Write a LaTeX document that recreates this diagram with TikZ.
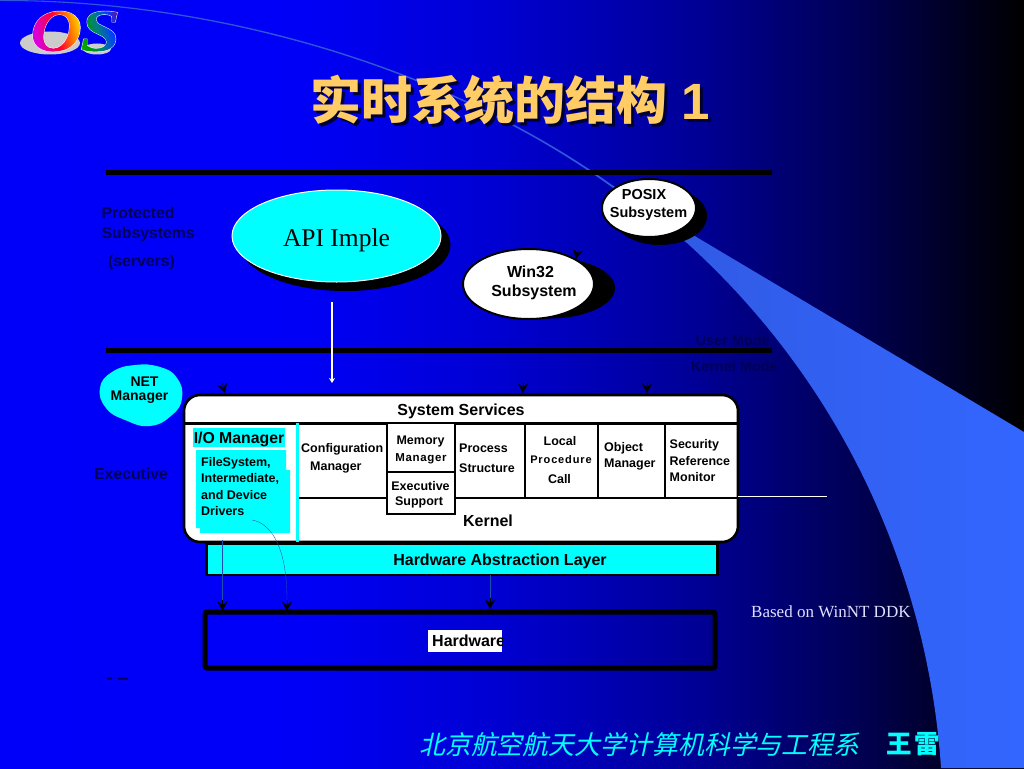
\documentclass[tikz,border=0pt]{standalone}
\usepackage{fontspec}
\usetikzlibrary{arrows.meta,shapes.geometric}
\setmainfont{Liberation Sans}
\newfontfamily\timesf{Liberation Serif}
\newfontfamily\logof[FakeStretch=1.2]{Liberation Serif}
\newfontfamily\cjkf{Noto Sans CJK SC}
\newfontfamily\cjkslant[FakeSlant=0.22]{Noto Sans CJK SC}
\newcommand\fsz[2]{\fontsize{#1}{#2}\selectfont}
\newcommand\lowered[2]{\raisebox{#1}[0pt][0pt]{#2}}
\definecolor{swoosh}{HTML}{3366FF}
\definecolor{swooshd}{HTML}{2F55D8}
\definecolor{aqua}{HTML}{00FFFF}
\definecolor{titlec}{HTML}{FFCC66}
\definecolor{darklabel}{HTML}{000058}
\definecolor{thinc}{HTML}{1C50B0}
\pgfdeclarehorizontalshading{bgshade}{100bp}{
  rgb(0bp)=(0,0,1); rgb(39.6bp)=(0,0,0.97); rgb(49.4bp)=(0,0,0.82);
  rgb(59.2bp)=(0,0,0.58); rgb(66.5bp)=(0,0,0.34); rgb(75bp)=(0,0,0); rgb(100bp)=(0,0,0)}
\pgfdeclarehorizontalshading{oshade}{100bp}{
  color(0bp)=(magenta!85!black); color(32bp)=(magenta!85!black); color(48bp)=(red!80!magenta); color(60bp)=(orange); color(70bp)=(yellow!90!orange); color(100bp)=(yellow)}
\pgfdeclarehorizontalshading{sshade}{100bp}{
  color(0bp)=(green!75!yellow); color(34bp)=(green!60!black); color(46bp)=(teal); color(58bp)=(blue!75!cyan); color(70bp)=(violet); color(100bp)=(violet)}
\newcommand\gradglyph[3]{\special{pdf:code q 5 Tr 1 1 1 RG 0.9 w}#1\special{pdf:code 0 Tr}\llap{\raisebox{-12pt}{\tikz[x=1pt,y=1pt]{\shade[shading=#2,shading angle=15] (0,0) rectangle (#3,66);}}\kern-8pt}\special{pdf:code Q}}
\tikzset{
  lbl/.style={inner sep=0pt,font=\bfseries\fsz{12.5}{16.4},align=left,text=black},
  big/.style={inner sep=0pt,font=\bfseries\fsz{16}{18},text=black},
  dark/.style={inner sep=0pt,font=\bfseries\fsz{15.8}{20},text=darklabel,align=left},
  heavy/.style={line width=4.8pt,black},
  cell/.style={line width=2.4pt,black},
  thinl/.style={line width=0.35pt,thinc},
  tip/.style={line width=0.4pt,black,-{Stealth[length=9.5pt,width=10pt,inset=3.5pt]}},
}
\begin{document}
\begin{tikzpicture}[x=1pt,y=-1pt]
\useasboundingbox (0,0) rectangle (1024,768);
\shade[shading=bgshade] (0,0) rectangle (1024,768);
% swoosh
\shade[left color=swooshd,right color=swoosh,middle color=swooshd]
  (0,0) .. controls (220,-1) and (450,69) .. (612,185) -- (693,235) -- (1024,432) -- (1024,768) -- (941,768)
  .. controls (930,600) and (860,400) .. (687,243) -- (611,186.5)
  .. controls (450,70.5) and (220,0.5) .. (0,1) -- cycle;
% logo
\fill[black!20] (50,43) ellipse (30 and 11.5);
\fill[black!20] (97,49) ellipse (14 and 5.5);
\node[inner sep=0pt,anchor=base west,font=\logof\bfseries\itshape\fsz{60}{64}] (logoo) at (30,51) {\gradglyph{O}{oshade}{64}};
\node[inner sep=0pt,anchor=base west,font=\logof\bfseries\itshape\fsz{60}{64}] (logos) at (80,51) {\gradglyph{S}{sshade}{52}};
% title
\node[inner sep=0pt,text=black!80!blue,font=\bfseries\fsz{51}{54}] (titlesh) at (513,103) {{\cjkf\bfseries 实时系统的结构} 1};
\node[inner sep=0pt,text=titlec,font=\bfseries\fsz{51}{54}] (title) at (510,100) {{\cjkf\bfseries 实时系统的结构} 1};
% rules
\coordinate (r1a) at (106,172.5); \coordinate (r1b) at (772,172.5);
\coordinate (r2a) at (106,350.5); \coordinate (r2b) at (772,350.5);
\draw[heavy] (r1a) -- (r1b);
\draw[heavy] (r2a) -- (r2b);
% left labels
\node[dark,anchor=north west] (prot) at (101.5,207) {Protected\\Subsystems};
\node[dark,anchor=west] (serv) at (108,262.5) {(servers)};
\node[dark,anchor=west] (exec) at (94,474) {Executive};
\node[dark,font=\bfseries\fsz{14.5}{18},anchor=east] (umode) at (770,340) {User Mode};
\node[dark,font=\bfseries\fsz{14.5}{18},anchor=east] (kmode) at (778,366) {Kernel Mode};
% API
\fill[black] (345.5,245) ellipse (105 and 46);
\node[ellipse,draw=white,line width=1pt,fill=aqua,minimum width=209pt,minimum height=92pt,inner sep=0pt,font=\timesf\fsz{25.5}{28}] (api) at (336.5,236) {\lowered{-10pt}{API Imple}};
% Win32
\fill[black] (549,288) ellipse (66 and 30.5);
\node[ellipse,draw=black,line width=2pt,fill=white,minimum width=131pt,minimum height=70pt,inner sep=0pt] (win) at (528.5,284) {};
\node[inner sep=0pt,font=\bfseries\fsz{16}{19},align=center] (wint) at (534,282.5) {\hspace*{-7pt}Win32\\Subsystem};
% POSIX
\fill[black] (660,216) ellipse (47 and 29);
\node[ellipse,draw=black,line width=2pt,fill=white,minimum width=94pt,minimum height=58pt,inner sep=0pt] (posix) at (649,208) {};
\node[inner sep=0pt,font=\bfseries\fsz{14.5}{18},align=center] (posixt) at (648.5,205) {POSIX\hspace{9pt}\null\\Subsystem};
% NET manager
\fill[aqua] plot[smooth cycle,tension=0.8] coordinates {(100,388) (112,372) (135,365) (160,367) (177,378) (182,398) (172,415) (150,426) (125,420) (106,408)};
\node[inner sep=0pt,font=\bfseries\fsz{14}{14},align=center] (net) at (139.5,390) {\hspace{10pt}NET\\Manager};
% API arrow
\coordinate (aps) at (332,302); \coordinate (ape) at (332,383);
\draw[white,line width=1.1pt,-{Stealth[length=5pt,width=6pt]}] (aps) -- (ape);
% HAL
\node[draw=black,line width=2.2pt,fill=aqua,minimum width=511pt,minimum height=31pt,inner sep=0pt,font=\bfseries\fsz{16}{18}] (hal) at (462,559.5) {\hspace{76pt}\lowered{-5.5pt}{Hardware Abstraction Layer}};
% main box
\node[draw=black,line width=2.6pt,fill=white,rounded corners=16pt,minimum width=554pt,minimum height=147pt,inner sep=0pt] (main) at (461,468.5) {};
\coordinate (hA) at (184,423.5); \coordinate (hB) at (738,423.5);
\draw[cell] (hA) -- (hB);
\coordinate (kA) at (299,498); \coordinate (kB) at (738,498);
\draw[cell] (kA) -- (kB);
\foreach \x in {525,598,665}{\draw[cell] (\x,423.5) -- (\x,498);}
% executive support / memory
\node[draw=black,line width=2.4pt,fill=white,minimum width=68pt,minimum height=42pt,inner sep=0pt] (esup) at (421,493) {};
\node[draw=black,line width=2.4pt,fill=white,minimum width=68pt,minimum height=49pt,inner sep=0pt] (mem) at (421,447.5) {};
% cyan divider
\coordinate (cvA) at (297.5,423); \coordinate (cvB) at (297.5,542);
\draw[aqua,line width=3pt] (cvA) -- (cvB);
% white line
\coordinate (wl) at (827,496);
\draw[white,line width=1pt] (738,496) -- (wl);
% I/O
\node[fill=aqua,minimum width=92pt,minimum height=19pt,inner sep=0pt,font=\bfseries\fsz{15.8}{18}] (io) at (239,437.5) {\lowered{-5.8pt}{I/O Manager}};
\fill[aqua] (196,450) rectangle (286,528) (200,470) rectangle (290,533);
\node[lbl,anchor=north west] (fs) at (201,457) {FileSystem,\\Intermediate,\\and Device\\Drivers};
% labels
\node[big] (sys) at (461,411) {System Services};
\node[lbl,anchor=west] (cfg1) at (301,449) {Configuration};
\node[lbl,anchor=west] (cfg2) at (310,467.5) {Manager};
\node[lbl] (mm1) at (420.5,441.5) {Memory};
\node[lbl,font=\bfseries\addfontfeature{LetterSpace=6}\fsz{11.5}{14}] (mm2) at (421,458.5) {Manager};
\node[lbl] (es1) at (420.5,486) {Executive};
\node[lbl] (es2) at (419,502) {Support};
\node[lbl,anchor=west] (ps1) at (459,448.5) {Process};
\node[lbl,anchor=west] (ps2) at (459,468) {Structure};
\node[lbl] (lp1) at (560,441.5) {Local};
\node[lbl,font=\bfseries\addfontfeature{LetterSpace=8}\fsz{11}{14}] (lp2) at (561,460) {Procedure};
\node[lbl] (lp3) at (559.5,479.5) {Call};
\node[lbl,anchor=west] (ob1) at (604,448) {Object};
\node[lbl,anchor=west] (ob2) at (604,464.5) {Manager};
\node[lbl,anchor=north west] (sr) at (669.5,439.5) {Security\\Reference\\Monitor};
\node[big] (ker) at (488,521) {Kernel};
% hardware
\node[draw=black,line width=5pt,minimum width=510pt,minimum height=56pt,inner sep=0pt,rounded corners=2pt] (hw) at (460,640) {};
\fill[white] (428,630) rectangle (502,652);
\begin{scope}
\clip (428,630) rectangle (502,652);
\node[big,anchor=west] (hwl) at (432,641) {Hardware};
\end{scope}
% based
\node[inner sep=0pt,anchor=west,text=white!88!blue,font=\timesf\fsz{17}{20}] (based) at (751,611.5) {Based on WinNT DDK};
% footer
\node[inner sep=0pt,anchor=west,text=aqua,font=\cjkslant\fsz{25.9}{30}] (foot) at (419,745) {北京航空航天大学计算机科学与工程系};
\node[inner sep=0pt,anchor=west,text=aqua,font=\cjkf\bfseries\fsz{25.5}{30}] (auth) at (886,744) {王\kern3pt 雷};
% thin lines and arrow tips
\coordinate (t1) at (225,393); \coordinate (t1s) at (222,383);
\coordinate (t2) at (523,393); \coordinate (t2s) at (523,383);
\coordinate (t3) at (647,393); \coordinate (t3s) at (647,383);
\coordinate (t4) at (222.5,611); \coordinate (t4s) at (222.5,540);
\coordinate (t5) at (287,611); \coordinate (t5a) at (252,520);
\coordinate (t6) at (490,609); \coordinate (t6s) at (490,575);
\coordinate (t7) at (576,259); \coordinate (t7s) at (578,249);
\draw[tip] (t1s) -- (t1);
\draw[tip] (t2s) -- (t2);
\draw[tip] (t3s) -- (t3);
\draw[thinl] (t4s) -- (222.5,600);
\draw[thinl] (t5a) .. controls (270,523) and (287,545) .. (287,600);
\draw[thinl] (t6s) -- (490,598);
\draw[tip] (222.5,600) -- (t4);
\draw[tip] (287,600) -- (t5);
\draw[tip] (490,598) -- (t6);
\draw[tip] (t7s) -- (t7);
% tiny mark
\fill[darklabel] (107,677) rectangle (112,679.5) (118,677.5) rectangle (128,679.5);
\end{tikzpicture}
\end{document}
